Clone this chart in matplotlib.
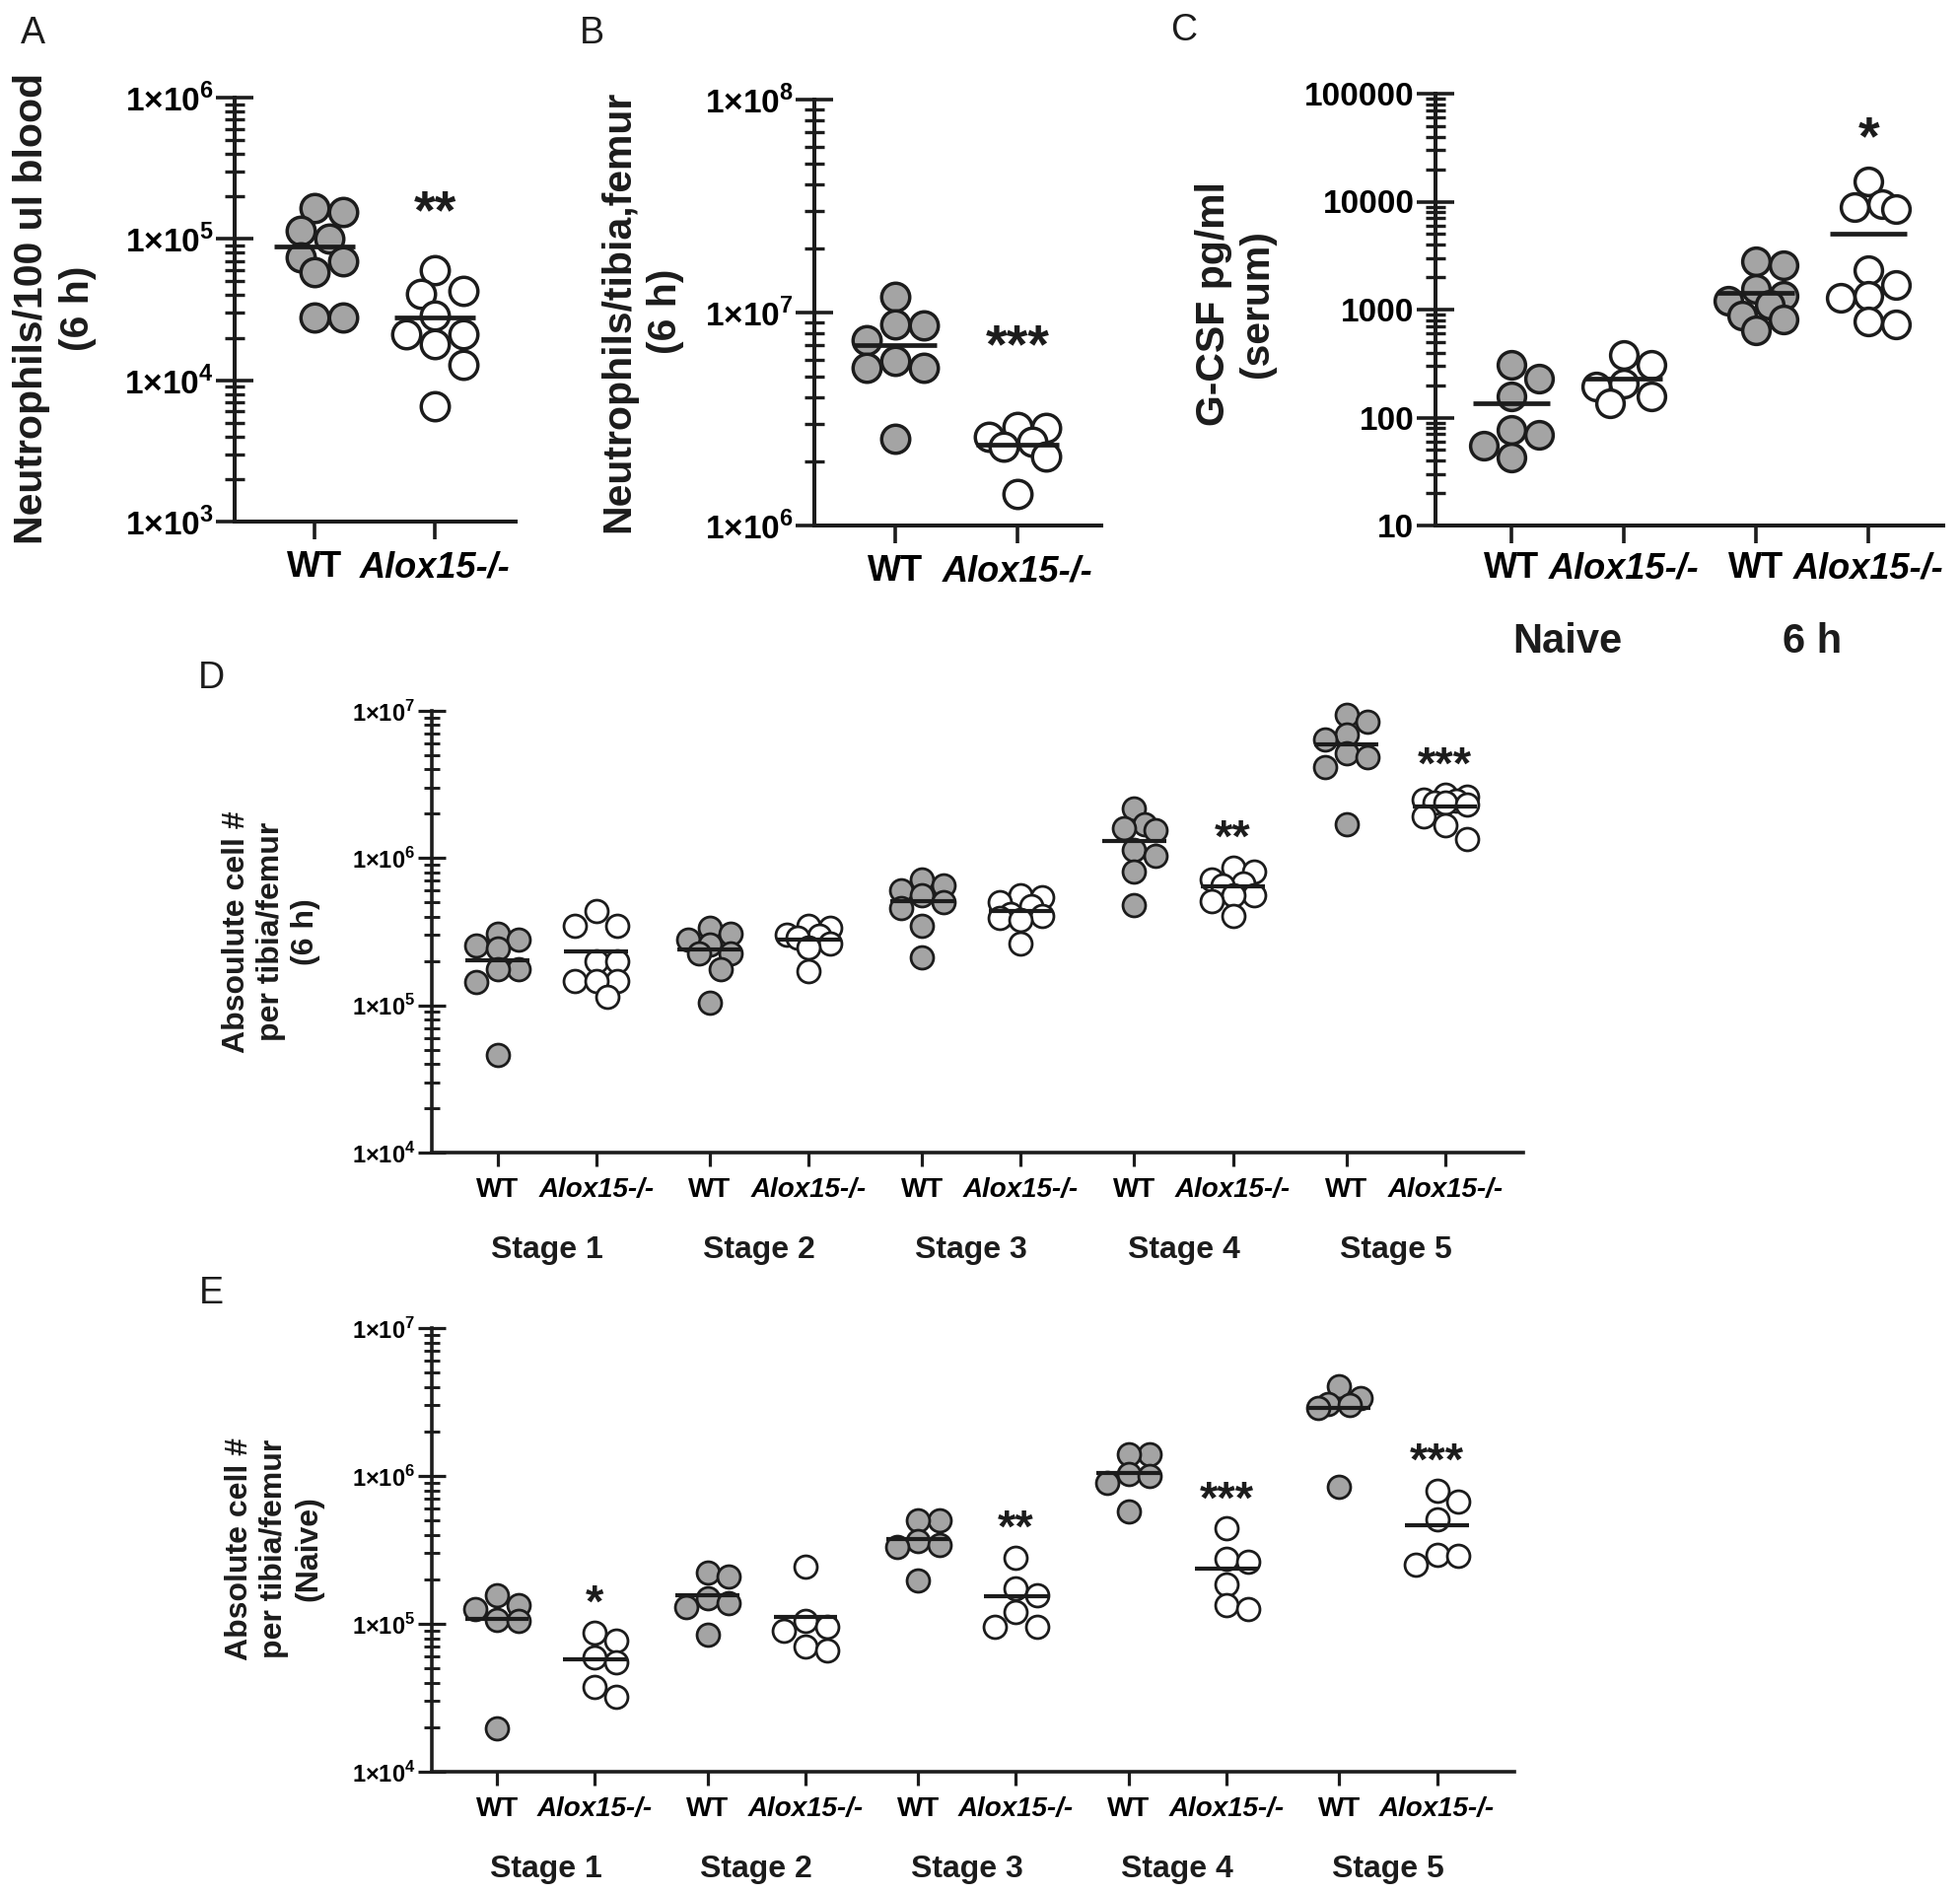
import numpy as np
import matplotlib
matplotlib.use('Agg')
import matplotlib.pyplot as plt
from matplotlib.ticker import LogLocator, NullFormatter, FixedLocator, FixedFormatter

plt.rcParams['font.family'] = ['Liberation Sans', 'DejaVu Sans']
plt.rcParams['font.weight'] = 'bold'
plt.rcParams['mathtext.fontset'] = 'custom'
plt.rcParams['mathtext.bf'] = 'Liberation Sans:bold'
plt.rcParams['mathtext.rm'] = 'Liberation Sans:bold'

# ---------------- data ----------------
GENOTYPES = ['WT', 'Alox15-/-']
STAGES = ['Stage 1', 'Stage 2', 'Stage 3', 'Stage 4', 'Stage 5']

# A: neutrophils / 100 ul blood (6 h)
a_wt = [1.66e5, 1.56e5, 1.15e5, 1.0e5, 7.4e4, 7.0e4, 5.8e4, 2.77e4, 2.77e4]
a_ko = [6.0e4, 4.3e4, 4.1e4, 2.86e4, 2.1e4, 2.1e4, 1.8e4, 1.28e4, 6.5e3]
a_sig = ['', '**']

# B: neutrophils / tibia, femur (6 h)
b_wt = [1.18e7, 8.8e6, 8.7e6, 7.4e6, 5.9e6, 5.5e6, 5.5e6, 2.55e6]
b_ko = [2.91e6, 2.86e6, 2.61e6, 2.48e6, 2.35e6, 2.11e6, 1.40e6]
b_sig = ['', '***']

# C: serum G-CSF
c_labels = ['WT', 'Alox15-/-', 'WT', 'Alox15-/-']
c_conditions = ['Naive', '6 h']
c_naive_wt = [310, 230, 156, 77, 69.5, 54.5, 42.7]
c_naive_ko = [383, 310, 207, 193, 156, 135]
c_6h_wt = [2800, 2570, 1550, 1340, 1200, 1120, 887, 808, 640]
c_6h_ko = [15500, 9400, 8900, 8600, 2340, 1700, 1340, 1280, 770, 736]
c_sig = ['', '', '', '*']

# D: absolute cell # per tibia/femur (6 h), by stage
d_wt = [
    [3.05e5, 2.79e5, 2.55e5, 2.44e5, 1.77e5, 1.77e5, 1.43e5, 4.6e4],
    [3.35e5, 3.05e5, 2.79e5, 2.6e5, 2.25e5, 2.25e5, 1.77e5, 1.05e5],
    [7.2e5, 6.56e5, 6.0e5, 5.63e5, 5.0e5, 4.55e5, 3.45e5, 2.12e5],
    [2.16e6, 1.69e6, 1.59e6, 1.54e6, 1.14e6, 1.04e6, 8.1e5, 4.83e5],
    [9.47e6, 8.38e6, 6.96e6, 6.37e6, 5.14e6, 4.84e6, 4.15e6, 1.71e6],
]
d_ko = [
    [4.4e5, 3.45e5, 3.45e5, 2.0e5, 2.0e5, 1.47e5, 1.47e5, 1.47e5, 1.15e5],
    [3.45e5, 3.35e5, 3.0e5, 2.96e5, 2.9e5, 2.63e5, 2.46e5, 1.71e5],
    [5.63e5, 5.46e5, 4.99e5, 4.69e5, 4.15e5, 4.03e5, 3.9e5, 3.79e5, 2.63e5],
    [8.63e5, 8.13e5, 7.2e5, 6.76e5, 6.56e5, 5.63e5, 5.63e5, 5.13e5, 4.03e5],
    [2.71e6, 2.6e6, 2.5e6, 2.47e6, 2.4e6, 2.39e6, 2.32e6, 1.93e6, 1.66e6, 1.34e6],
]
d_sig = ['', '', '', '**', '***']

# E: absolute cell # per tibia/femur (naive), by stage
e_wt = [
    [1.55e5, 1.33e5, 1.25e5, 1.07e5, 1.04e5, 1.97e4],
    [2.22e5, 2.1e5, 1.5e5, 1.37e5, 1.29e5, 8.4e4],
    [5.05e5, 5.05e5, 3.61e5, 3.4e5, 3.3e5, 1.97e5],
    [1.41e6, 1.41e6, 1.03e6, 1.0e6, 8.97e5, 5.76e5],
    [4.07e6, 3.34e6, 3.07e6, 3.01e6, 2.89e6, 8.44e5],
]
e_ko = [
    [8.7e4, 7.7e4, 5.9e4, 5.5e4, 3.72e4, 3.2e4],
    [2.44e5, 1.04e5, 9.6e4, 9.0e4, 7.0e4, 6.6e4],
    [2.8e5, 1.75e5, 1.55e5, 1.21e5, 9.5e4, 9.5e4],
    [4.41e5, 2.76e5, 2.62e5, 1.85e5, 1.33e5, 1.25e5],
    [7.94e5, 6.7e5, 5.1e5, 2.92e5, 2.87e5, 2.51e5],
]
e_sig = ['*', '', '**', '***', '***']

# ---------------- style ----------------
GRAY = '#a4a4a4'
INK = '#1c1c1c'
W, H = 1988, 1920
fig = plt.figure(figsize=(W / 100, H / 100), dpi=100)


def axes_px(left, right, top, bottom):
    return fig.add_axes([left / W, 1 - bottom / H, (right - left) / W, (bottom - top) / H])


def style_axes(ax, ylim, big=True):
    ax.set_yscale('log')
    ax.set_ylim(*ylim)
    for s in ['top', 'right']:
        ax.spines[s].set_visible(False)
    lw = 2.9 if big else 2.6
    for s in ['left', 'bottom']:
        ax.spines[s].set_linewidth(lw)
        ax.spines[s].set_color(INK)
    ax.yaxis.set_major_locator(LogLocator(base=10, numticks=20))
    ax.yaxis.set_minor_locator(LogLocator(base=10, subs=np.arange(2, 10), numticks=20))
    ax.yaxis.set_minor_formatter(NullFormatter())
    if big:
        ax.tick_params(axis='y', which='major', direction='inout', length=27, width=2.6,
                       color=INK, labelsize=24, pad=2)
        ax.tick_params(axis='y', which='minor', direction='inout', length=14, width=2.4, color=INK)
        ax.tick_params(axis='x', which='major', direction='out', length=13, width=2.6,
                       color=INK, labelsize=26, pad=8)
    else:
        ax.tick_params(axis='y', which='major', direction='inout', length=20, width=2.3,
                       color=INK, labelsize=17, pad=2)
        ax.tick_params(axis='y', which='minor', direction='inout', length=12, width=2.1, color=INK)
        ax.tick_params(axis='x', which='major', direction='out', length=10, width=2.3,
                       color=INK, labelsize=20, pad=8)
    ax.tick_params(axis='x', which='minor', bottom=False)
    ax.patch.set_alpha(0)


def sci_labels(ax):
    locs = [t for t in ax.get_yticks() if ax.get_ylim()[0] <= t <= ax.get_ylim()[1]]
    ax.yaxis.set_major_locator(FixedLocator(locs))
    ax.yaxis.set_major_formatter(FixedFormatter(
        ['1\u00d710$^{\\mathbf{%d}}$' % round(np.log10(v)) for v in locs]))


def italic_ko(ax):
    for lbl in ax.get_xticklabels():
        if 'Alox' in lbl.get_text():
            lbl.set_style('italic')


def swarm_x(ax, xc, vals, diam, thr, steps):
    # greedy beeswarm in pixel space, limited spread; overlap allowed when crowded
    vals = np.asarray(vals, float)
    disp = ax.transData.transform(np.column_stack([np.full(len(vals), xc), vals]))
    cx = disp[0, 0]
    placed = []
    xs = np.empty(len(vals))
    for i in np.argsort(vals)[::-1]:
        y = disp[i, 1]
        best, best_d = cx, -1
        for s in steps:
            x = cx + s * diam
            d = min([np.hypot(x - px, y - py) for px, py in placed] or [1e9])
            if d >= thr * diam:
                best = x
                break
            if d > best_d:
                best, best_d = x, d
        placed.append((best, y))
        xs[i] = best
    return ax.transData.inverted().transform(np.column_stack([xs, disp[:, 1]]))[:, 0]


def plot_group(ax, xc, vals, filled, diam, half, ms, mew, mlw, thr, steps):
    xs = swarm_x(ax, xc, vals, diam, thr, steps)
    ax.plot(xs, vals, 'o', ms=ms, mfc=GRAY if filled else 'white', mec=INK, mew=mew,
            zorder=3, clip_on=False)
    ax.hlines(np.mean(vals), xc - half, xc + half, color=INK, lw=mlw, zorder=4)


def sig_mark(ax, xc, vals, text, dist_px, size):
    if not text:
        return
    # asterisk ink centre dist_px above the highest point
    off = dist_px * 0.72 - 0.57 * size
    ax.annotate(text, xy=(xc, max(vals)), xytext=(0, off), textcoords='offset points',
                ha='center', va='baseline', fontsize=size, fontweight='bold', color=INK)


def panel_letter(x, y, s):
    fig.text(x / W, 1 - y / H, s, fontsize=27, fontweight='normal', ha='center', va='center',
             color=INK)


def ylabel_px(x, y, s, size, ls):
    fig.text(x / W, 1 - y / H, s, rotation=90, fontsize=size, fontweight='bold', ha='center',
             va='center', multialignment='center', linespacing=ls, color=INK)


STEPS_BIG = [0, 0.5, -0.5, 1, -1]
STEPS_SMALL = [0, 0.45, -0.45, 0.9, -0.9]

# ---------------- A ----------------
axA = axes_px(238, 523, 99, 529)
style_axes(axA, (1e3, 1e6))
axA.set_xlim(-0.664, 1.672)
sci_labels(axA)
axA.set_xticks([0, 1])
axA.set_xticklabels(GENOTYPES)
italic_ko(axA)
for k, (vals, filled) in enumerate([(a_wt, True), (a_ko, False)]):
    plot_group(axA, k, vals, filled, 29, 0.34, 20.5, 2.5, 3.4, 0.92, STEPS_BIG)
    sig_mark(axA, k, vals, a_sig[k], 75, 40)
panel_letter(33, 34, 'A')
ylabel_px(56, 313, 'Neutrophils/100 ul blood\n(6 h)', 29.5, 1.3)

# ---------------- B ----------------
axB = axes_px(826, 1117, 101, 533)
style_axes(axB, (1e6, 1e8))
axB.set_xlim(-0.661, 1.685)
sci_labels(axB)
axB.set_xticks([0, 1])
axB.set_xticklabels(GENOTYPES)
italic_ko(axB)
for k, (vals, filled) in enumerate([(b_wt, True), (b_ko, False)]):
    plot_group(axB, k, vals, filled, 29, 0.34, 20.5, 2.5, 3.4, 0.92, STEPS_BIG)
    sig_mark(axB, k, vals, b_sig[k], 97, 40)
panel_letter(600, 34, 'B')
ylabel_px(651, 316, 'Neutrophils/tibia,femur\n(6 h)', 29.5, 1.3)

# ---------------- C ----------------
axC = axes_px(1456, 1971, 95, 533)
style_axes(axC, (10, 1e5))
axC.set_xlim(-0.675, 3.84)
c_x = [0, 1, 2.175, 3.175]
axC.yaxis.set_major_locator(FixedLocator([10, 100, 1000, 10000, 100000]))
axC.yaxis.set_major_formatter(FixedFormatter(['10', '100', '1000', '10000', '100000']))
axC.set_xticks(c_x)
axC.set_xticklabels(c_labels)
axC.tick_params(axis='x', pad=6)
italic_ko(axC)
c_sets = [(c_naive_wt, True), (c_naive_ko, False), (c_6h_wt, True), (c_6h_ko, False)]
for k, (vals, filled) in enumerate(c_sets):
    plot_group(axC, c_x[k], vals, filled, 28, 0.34, 20, 2.5, 3.4, 0.92, STEPS_BIG)
    sig_mark(axC, c_x[k], vals, c_sig[k], 59, 40)
for j, cond in enumerate(c_conditions):
    axC.annotate(cond, xy=((c_x[2 * j] + c_x[2 * j + 1]) / 2, 0), xycoords=('data', 'axes fraction'),
                 xytext=(0, -85), textcoords='offset points', ha='center', va='center',
                 fontsize=30, fontweight='bold', color=INK)
panel_letter(1201, 31, 'C')
ylabel_px(1253, 308, 'G-CSF pg/ml\n(serum)', 29.5, 1.2)


# ---------------- D / E ----------------
def stage_panel(ax, wt, ko, sig, ylab_text, ylab_x, ylab_y):
    style_axes(ax, (1e4, 1e7), big=False)
    ax.set_xlim(-0.542, 4.6)
    sci_labels(ax)
    off = 0.2326
    xt, xl = [], []
    for s in range(len(STAGES)):
        xt += [s - off, s + off]
        xl += GENOTYPES
    ax.set_xticks(xt)
    ax.set_xticklabels(xl)
    italic_ko(ax)
    for s in range(len(STAGES)):
        plot_group(ax, s - off, wt[s], True, 24, 0.151, 16.5, 2.0, 3.0, 0.8, STEPS_SMALL)
        plot_group(ax, s + off, ko[s], False, 24, 0.151, 16.5, 2.0, 3.0, 0.8, STEPS_SMALL)
        sig_mark(ax, s + off, ko[s], sig[s], 43, 34)
        ax.annotate(STAGES[s], xy=(s, 0), xycoords=('data', 'axes fraction'),
                    xytext=(0, -71), textcoords='offset points', ha='center', va='center',
                    fontsize=23, fontweight='bold', color=INK)
    ylabel_px(ylab_x, ylab_y, ylab_text, 23, 1.22)


axD = axes_px(438, 1545, 721, 1169)
stage_panel(axD, d_wt, d_ko, d_sig, 'Absoulute cell #\nper tibia/femur\n(6 h)', 275, 945)
panel_letter(214, 688, 'D')

axE = axes_px(438, 1536, 1347, 1797)
stage_panel(axE, e_wt, e_ko, e_sig, 'Absolute cell #\nper tibia/femur\n(Naive)', 278, 1571)
panel_letter(214, 1312, 'E')

fig.savefig('out.png', dpi=100)
